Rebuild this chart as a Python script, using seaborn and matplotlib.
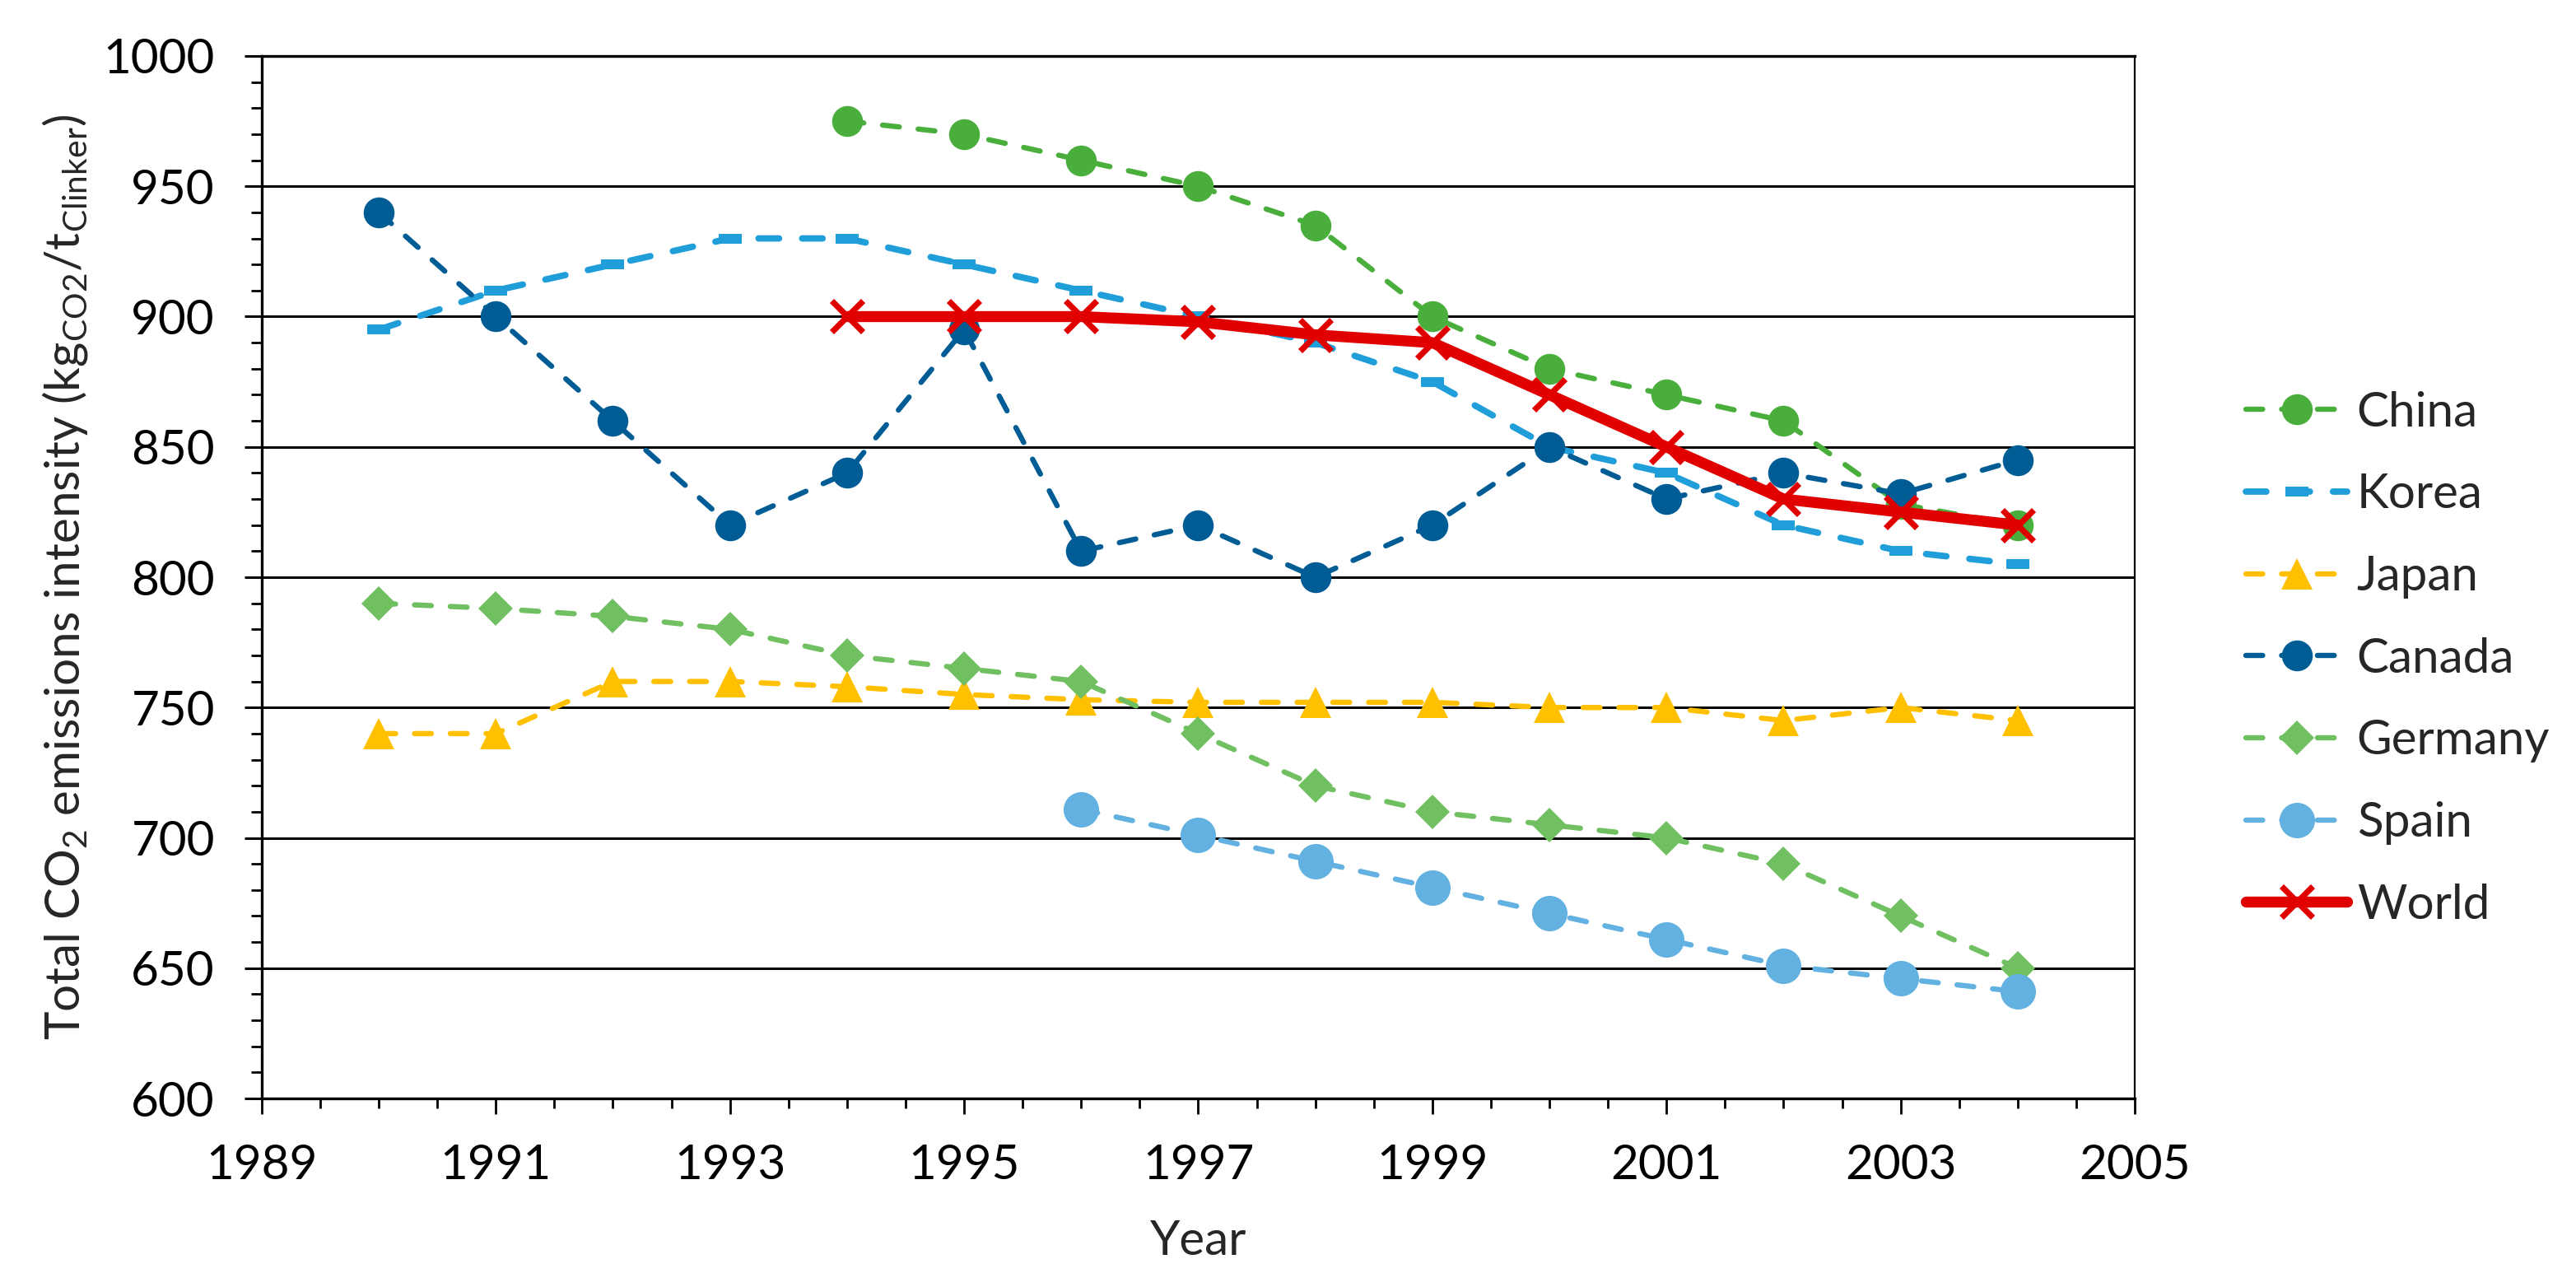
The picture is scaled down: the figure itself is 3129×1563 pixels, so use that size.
import matplotlib.pyplot as plt
import seaborn as sns
import numpy as np
import pandas as pd
from matplotlib.ticker import MultipleLocator

sns.set_theme(style="ticks")
plt.rcParams["font.family"] = ["Lato", "DejaVu Sans"]
plt.rcParams["mathtext.fontset"] = "custom"
plt.rcParams["mathtext.rm"] = "Lato"
plt.rcParams["mathtext.it"] = "Lato:italic"

# data
years_all = list(range(1990, 2005))
years_china = list(range(1994, 2005))
years_spain = list(range(1996, 2005))

china = [975, 970, 960, 950, 935, 900, 880, 870, 860, 828, 820]
korea = [895, 910, 920, 930, 930, 920, 910, 900, 890, 875, 850, 840, 820, 810, 805]
japan = [740, 740, 760, 760, 758, 755, 753, 752, 752, 752, 750, 750, 745, 750, 745]
canada = [940, 900, 860, 820, 840, 895, 810, 820, 800, 820, 850, 830, 840, 832, 845]
germany = [790, 788, 785, 780, 770, 765, 760, 740, 720, 710, 705, 700, 690, 670, 650]
spain = [711, 701, 691, 681, 671, 661, 651, 646, 641]
world = [900, 900, 900, 898, 893, 890, 870, 850, 830, 825, 820]

x_ticks = list(range(1989, 2006, 2))

dash = (0, (3.2, 3.6))
series = [
    ("China", years_china, china, "#4AAE3C", "o", 13.5, 2.3, dash),
    ("Korea", years_all, korea, "#1F9EDA", "_", 10, 2.8, dash),
    ("Japan", years_all, japan, "#FFC000", "^", 13.5, 2.3, dash),
    ("Canada", years_all, canada, "#005C94", "o", 13.5, 2.3, dash),
    ("Germany", years_all, germany, "#70C061", "D", 10.5, 2.3, dash),
    ("Spain", years_spain, spain, "#62B1E1", "o", 15.5, 2.3, dash),
    ("World", years_china, world, "#E00000", "x", 13.5, 4.8, "-"),
]

fig = plt.figure(figsize=(15.645, 7.815), dpi=200)
ax = fig.add_axes([0.1016, 0.1465, 0.7271, 0.81])

for name, yrs, vals, col, mk, ms, lw, ls in series:
    mew = 0
    if mk == "_":
        mew = 4.3
    elif mk == "x":
        mew = 2.6
    sns.lineplot(
        x=yrs, y=vals, ax=ax,
        color=col, marker=mk, markersize=ms,
        markeredgecolor=col, markeredgewidth=mew,
        linewidth=lw, linestyle=ls,
        dash_capstyle="round", solid_capstyle="round",
        label=name,
    )

ax.set_xlim(1989, 2005)
ax.set_ylim(600, 1000)
ax.set_xticks(x_ticks)
ax.xaxis.set_minor_locator(MultipleLocator(0.5))
ax.yaxis.set_major_locator(MultipleLocator(50))
ax.yaxis.set_minor_locator(MultipleLocator(10))

ax.set_axisbelow(True)
ax.yaxis.grid(True, which="major", color="black", linewidth=1.1)
ax.xaxis.grid(False)

ax.tick_params(axis="both", which="both", direction="out", colors="black",
               labelsize=21, pad=13)
ax.tick_params(axis="x", which="major", length=6.8, width=1.0)
ax.tick_params(axis="x", which="minor", length=4.3, width=1.0)
ax.tick_params(axis="y", which="major", length=7.5, width=1.1)
ax.tick_params(axis="y", which="minor", length=4.7, width=1.0)

for side in ["left", "bottom", "top"]:
    ax.spines[side].set_color("black")
    ax.spines[side].set_linewidth(1.2)
ax.spines["right"].set_color("black")
ax.spines["right"].set_linewidth(0.8)

ax.set_xlabel("Year", fontsize=21, labelpad=14)
ax.set_ylabel(r"Total CO$_2$ emissions intensity (kg$_{\mathrm{CO2}}$/t$_{\mathrm{Clinker}}$)",
              fontsize=21, labelpad=6)

leg = ax.legend(loc="center left", bbox_to_anchor=(0.872, 0.488),
                bbox_transform=fig.transFigure, frameon=False,
                handlelength=2.1, handletextpad=0.2, labelspacing=0.8,
                borderpad=0, borderaxespad=0, fontsize=21)

fig.savefig("out.png", dpi=200, facecolor="white")
